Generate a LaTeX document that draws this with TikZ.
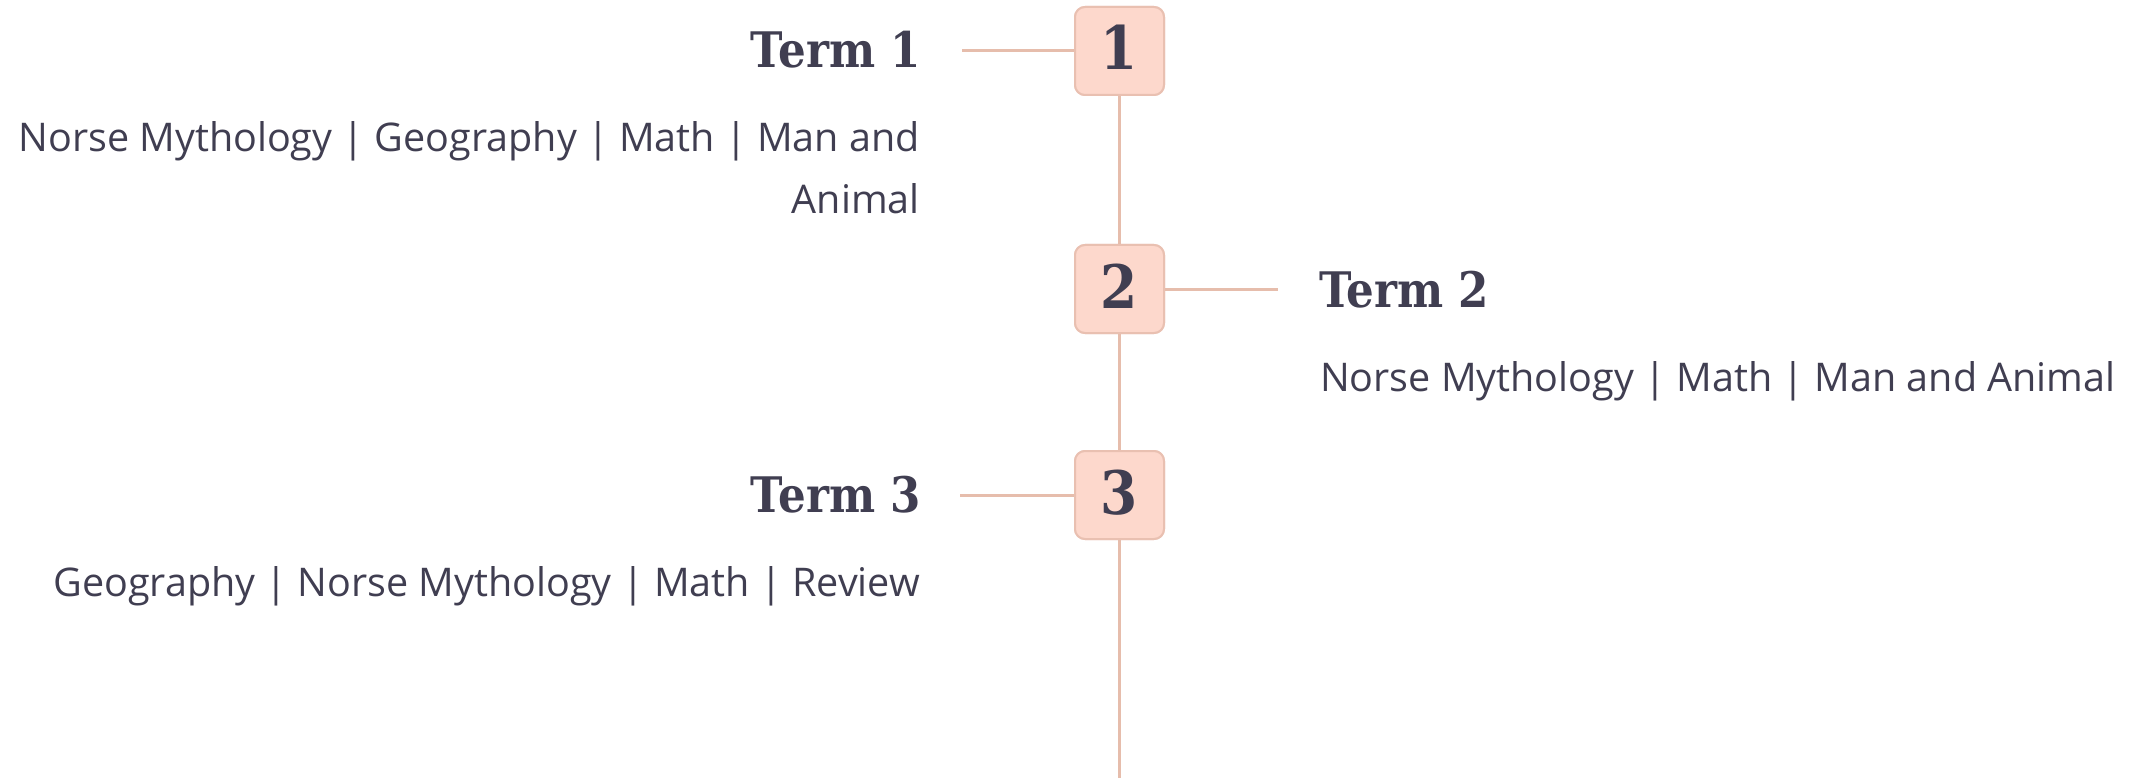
\documentclass[tikz,border=0pt]{standalone}
\usepackage{fontspec}
\setmainfont{Open Sans}
\newfontfamily\headfont[FakeStretch=0.89]{DejaVu Serif}
\definecolor{ink}{HTML}{403E51}
\definecolor{boxfill}{HTML}{FDD8CC}
\definecolor{boxline}{HTML}{E9C0B1}
\definecolor{conn}{HTML}{E6BDAC}
\begin{document}
\begin{tikzpicture}[x=1pt,y=-1pt,
  numbox/.style={draw=boxline, line width=2pt, fill=boxfill, rounded corners=10pt, minimum width=89pt, minimum height=88pt, inner sep=0pt},
  numtxt/.style={anchor=base, inner sep=0pt, text=ink, font=\headfont\bfseries\fontsize{60}{60}\selectfont},
  termtxt/.style={inner sep=0pt, text=ink, font=\headfont\bfseries\fontsize{49}{49}\selectfont},
  bodytxt/.style={inner sep=0pt, text=ink, font=\fontsize{39.5}{63}\selectfont},
  link/.style={draw=conn, line width=3pt}]
\useasboundingbox (0,0) rectangle (2134,778);
% boxes
\node[numbox] (b1) at (1119.5,51) {};
\node[numbox] (b2) at (1119.5,289) {};
\node[numbox] (b3) at (1119.5,495) {};
\coordinate (bottom) at (1119.5,778);
\coordinate (c1) at (962,51);
\coordinate (c2) at (1278,289);
\coordinate (c3) at (960,495);
% connectors
\draw[link] (b1.south) -- (b2.north);
\draw[link] (b2.south) -- (b3.north);
\draw[link] (b3.south) -- (bottom);
\draw[link] (c1) -- (b1.west);
\draw[link] (b2.east) -- (c2);
\draw[link] (c3) -- (b3.west);
% redraw boxes on top
\node[numbox] at (b1) {};
\node[numbox] at (b2) {};
\node[numbox] at (b3) {};
\node[numtxt] (n1) at (1119.5,70) {1};
\node[numtxt] (n2) at (1119.5,308) {2};
\node[numtxt] (n3) at (1119.5,514) {3};
% terms
\node[termtxt, anchor=base east] (t1) at (921,68) {Term 1};
\node[termtxt, anchor=base west] (t2) at (1319,307) {Term 2};
\node[termtxt, anchor=base east] (t3) at (921,512) {Term 3};
% bodies
\node[bodytxt, anchor=base east] (d1) at (920,152) {Norse Mythology | Geography | Math | Man and};
\node[bodytxt, anchor=base east] (d1b) at (920,214) {Animal};
\node[bodytxt, anchor=base west] (d2) at (1320,391) {Norse Mythology | Math | Man and Animal};
\node[bodytxt, anchor=base east] (d3) at (920,596) {Geography | Norse Mythology | Math | Review};
\end{tikzpicture}
\end{document}
